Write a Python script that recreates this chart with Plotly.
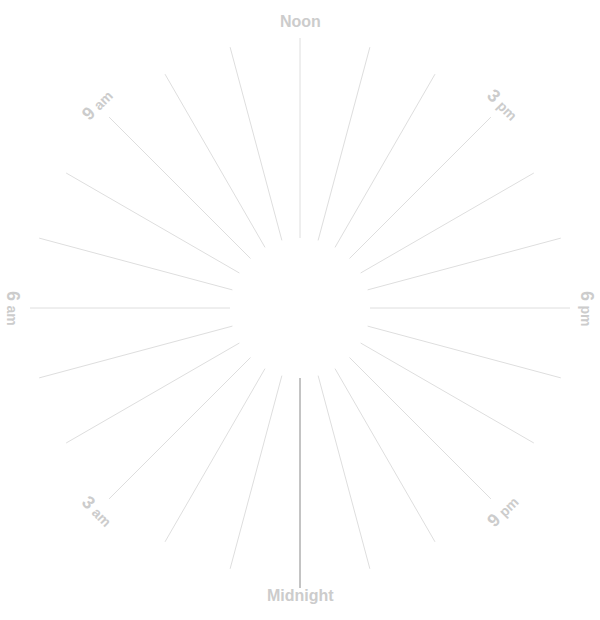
import math
import plotly.graph_objects as go

# Data
hours = list(range(24))
inner_radius = 70
outer_radius = 270
highlight_hour = 0
highlight_outer = 280
label_hours = [12, 15, 18, 21, 0, 3, 6, 9]
label_main = ["Noon", "3", "6", "9", "Midnight", "3", "6", "9"]
label_suffix = ["", "pm", "pm", "pm", "", "am", "am", "am"]
label_radius = 287


def angle_deg(h):
    # clockwise from top, noon at top
    return ((h - 12) * 15) % 360


def xy(h, r):
    a = math.radians(angle_deg(h))
    return r * math.sin(a), r * math.cos(a)


fig = go.Figure()

xs, ys = [], []
for h in hours:
    if h == highlight_hour:
        continue
    x0, y0 = xy(h, inner_radius)
    x1, y1 = xy(h, outer_radius)
    xs += [x0, x1, None]
    ys += [y0, y1, None]
fig.add_trace(go.Scatter(x=xs, y=ys, mode="lines",
                         line=dict(color="#dedede", width=1),
                         hoverinfo="skip", showlegend=False))

hx0, hy0 = xy(highlight_hour, inner_radius)
hx1, hy1 = xy(highlight_hour, highlight_outer)
fig.add_trace(go.Scatter(x=[hx0, hx1], y=[hy0, hy1], mode="lines",
                         line=dict(color="#888888", width=1),
                         hoverinfo="skip", showlegend=False))

for h, main, suf in zip(label_hours, label_main, label_suffix):
    a = angle_deg(h)
    if a <= 90:
        rot = a
    elif a <= 270:
        rot = a - 180
    else:
        rot = a - 360
    if suf:
        text = (f"<span style='font-size:18px'>{main}</span> "
                f"<span style='font-size:14px'>{suf}</span>")
    else:
        text = main
    x, y = xy(h, label_radius)
    fig.add_annotation(x=x, y=y, text=text, showarrow=False, textangle=rot,
                       xanchor="center", yanchor="middle",
                       font=dict(family="Liberation Sans, Arial, sans-serif",
                                 size=16, color="#cccccc", weight="bold"))

fig.update_layout(
    width=600, height=620,
    margin=dict(l=0, r=0, t=0, b=0),
    paper_bgcolor="white", plot_bgcolor="white",
    xaxis=dict(range=[-300, 300], visible=False, fixedrange=True),
    yaxis=dict(range=[-312, 308], visible=False, fixedrange=True),
    showlegend=False,
)

fig.write_html(
    "out.html",
    config={"displayModeBar": False},
    post_script="document.body.style.margin='0';document.body.style.overflow='hidden';",
)
